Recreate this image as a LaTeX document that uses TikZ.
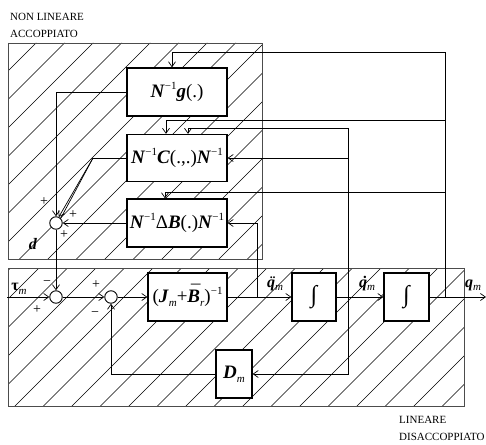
\documentclass[tikz,border=0pt]{standalone}
\usepackage{fontspec}
\setmainfont{Liberation Serif}
\usetikzlibrary{arrows.meta,calc}
\newcommand{\bi}[1]{\textbf{\textit{#1}}}
\newcommand{\supm}{\raisebox{0.42em}{\fontsize{11}{11}\selectfont −1}}
\newcommand{\subs}[1]{\raisebox{-0.22em}{\fontsize{11}{11}\selectfont\textit{#1}}}
\newcommand{\ddq}{\ooalign{\bi{q}\cr\hidewidth\kern0.12em\bi{¨}\hidewidth\cr}}
\newcommand{\dtq}{\ooalign{\bi{q}\cr\hidewidth\kern0.12em\bi{˙}\hidewidth\cr}}
\newcommand{\barB}{\ooalign{\bi{B}\cr\hidewidth\kern0.15em\raisebox{0.2em}{\bi{¯}}\hidewidth\cr}}
\begin{document}
\begin{tikzpicture}[x=1pt,y=-1pt,
  blk/.style={draw, line width=1.3pt, fill=white, inner sep=0pt, font=\fontsize{19}{19}\selectfont},
  sumc/.style={circle, draw, line width=0.9pt, fill=white, minimum size=12.5pt, inner sep=0pt},
  con/.style={line width=0.7pt},
  arr/.style={con, -{Straight Barb[length=5pt,width=7pt]}},
  hatch/.style={line width=0.5pt},
  region/.style={draw=black!70, line width=0.9pt},
  sgn/.style={font=\fontsize{14}{14}\selectfont, inner sep=0pt},
  lbl/.style={font=\fontsize{16}{16}\selectfont, inner sep=0pt},
  intg/.style={font=\fontsize{24}{24}\selectfont},
  captxt/.style={font=\fontsize{11}{11}\selectfont, inner sep=0pt, anchor=west}
]
\useasboundingbox (0,0) rectangle (486,444);
% hatching
\begin{scope}
\clip (8,43) rectangle (262,259) (8,268) rectangle (464,406);
\foreach \k in {0,...,30} {
  \draw[hatch] ({50.5+28.5*\k},0) -- ({50.5+28.5*\k-500},500);
}
\end{scope}
\draw[region] (8,43) rectangle (262,259);
\draw[region] (8,268) rectangle (464,406);

% captions
\node[captxt] (c1) at (10,17) {NON LINEARE};
\node[captxt] (c2) at (10,34) {ACCOPPIATO};
\node[captxt] (c3) at (399,420) {LINEARE};
\node[captxt] (c4) at (399,437) {DISACCOPPIATO};

% blocks
\node[blk, minimum width=100pt, minimum height=48pt] (G) at (177,92) {\bi{N}\supm\bi{g}(.)};
\node[blk, minimum width=100pt, minimum height=47pt] (C) at (177,158) {\bi{N}\supm\bi{C}(.,.)\bi{N}\supm};
\node[blk, minimum width=100pt, minimum height=48pt] (B) at (177,223) {\bi{N}\supm Δ\bi{B}(.)\bi{N}\supm};
\node[blk, minimum width=79pt, minimum height=48pt] (J) at (187.5,297) {(\bi{J}\subs{m}+\barB\subs{r})\supm};
\node[blk, intg, minimum width=44pt, minimum height=48pt] (I1) at (314,297) {∫};
\node[blk, intg, minimum width=45pt, minimum height=48pt] (I2) at (406.5,297) {∫};
\node[blk, minimum width=36pt, minimum height=48pt] (D) at (234,374) {\bi{D}\subs{m}};

% summing junctions
\node[sumc] (S0) at (56,223) {};
\node[sumc] (S1) at (56,297) {};
\node[sumc] (S2) at (111,297) {};

% tap points
\coordinate (tin) at (7,297);
\coordinate (pa) at (257,297);
\coordinate (pv) at (348,297);
\coordinate (pq) at (445,297);
\coordinate (out) at (486,297);
\coordinate (g1) at (172,52);
\coordinate (k1) at (166,120);
\coordinate (b1) at (165,192);
\coordinate (k2) at (188,128);
\coordinate (k3) at (93,158);

% forward path
\draw[arr] (tin) -- (S1.west);
\draw[arr] (S1.east) -- (S2.west);
\draw[arr] (S2.east) -- (J.west);
\draw[arr] (J.east) -- (I1.west);
\draw[arr] (I1.east) -- (I2.west);
\draw[arr] (I2.east) -- (out);

% feedback from q
\draw[arr] (pq) |- (g1) -- (g1 |- G.north);
\draw[arr] (pq |- k1) -- (k1) -- (k1 |- C.north);
\draw[arr] (pq |- b1) -- (b1) -- (b1 |- B.north);
% feedback from q dot
\draw[arr] (pv) |- (k2) -- (k2 |- C.north);
\draw[arr] (pv |- C.east) -- (C.east);
\draw[arr] (pv) |- (D.east);
% feedback from q ddot
\draw[arr] (pa) |- (B.east);
% D_m
\draw[arr] (D.west) -| (S2.south);
% nonlinear sums
\draw[arr] (G.west) -| (S0.north);
\draw[con] (C.west) -- (k3);
\draw[arr] (k3) -- (S0.65);
\draw[con] (k3) -- (S0.45);
\draw[arr] (B.west) -- (S0.east);
\draw[arr] (S0.south) -- (S1.north);

% signs
\node[sgn] (p1) at (44,202) {+};
\node[sgn] (p2) at (73,215) {+};
\node[sgn] (p3) at (64,235) {+};
\node[lbl] (dl) at (33,244) {\bi{d}};
\node[sgn] (m1) at (47,283) {−};
\node[sgn] (p4) at (37,310) {+};
\node[sgn] (p5) at (96,285) {+};
\node[sgn] (m2) at (95,314) {−};

% signal labels
\node[lbl] (tau) at (19,289) {\textbf{τ}\subs{m}};
\node[lbl] (qa) at (275,285) {\ddq\subs{m}};
\node[lbl] (qv) at (367,285) {\dtq\subs{m}};
\node[lbl] (qq) at (473,285) {\bi{q}\subs{m}};
\end{tikzpicture}
\end{document}
